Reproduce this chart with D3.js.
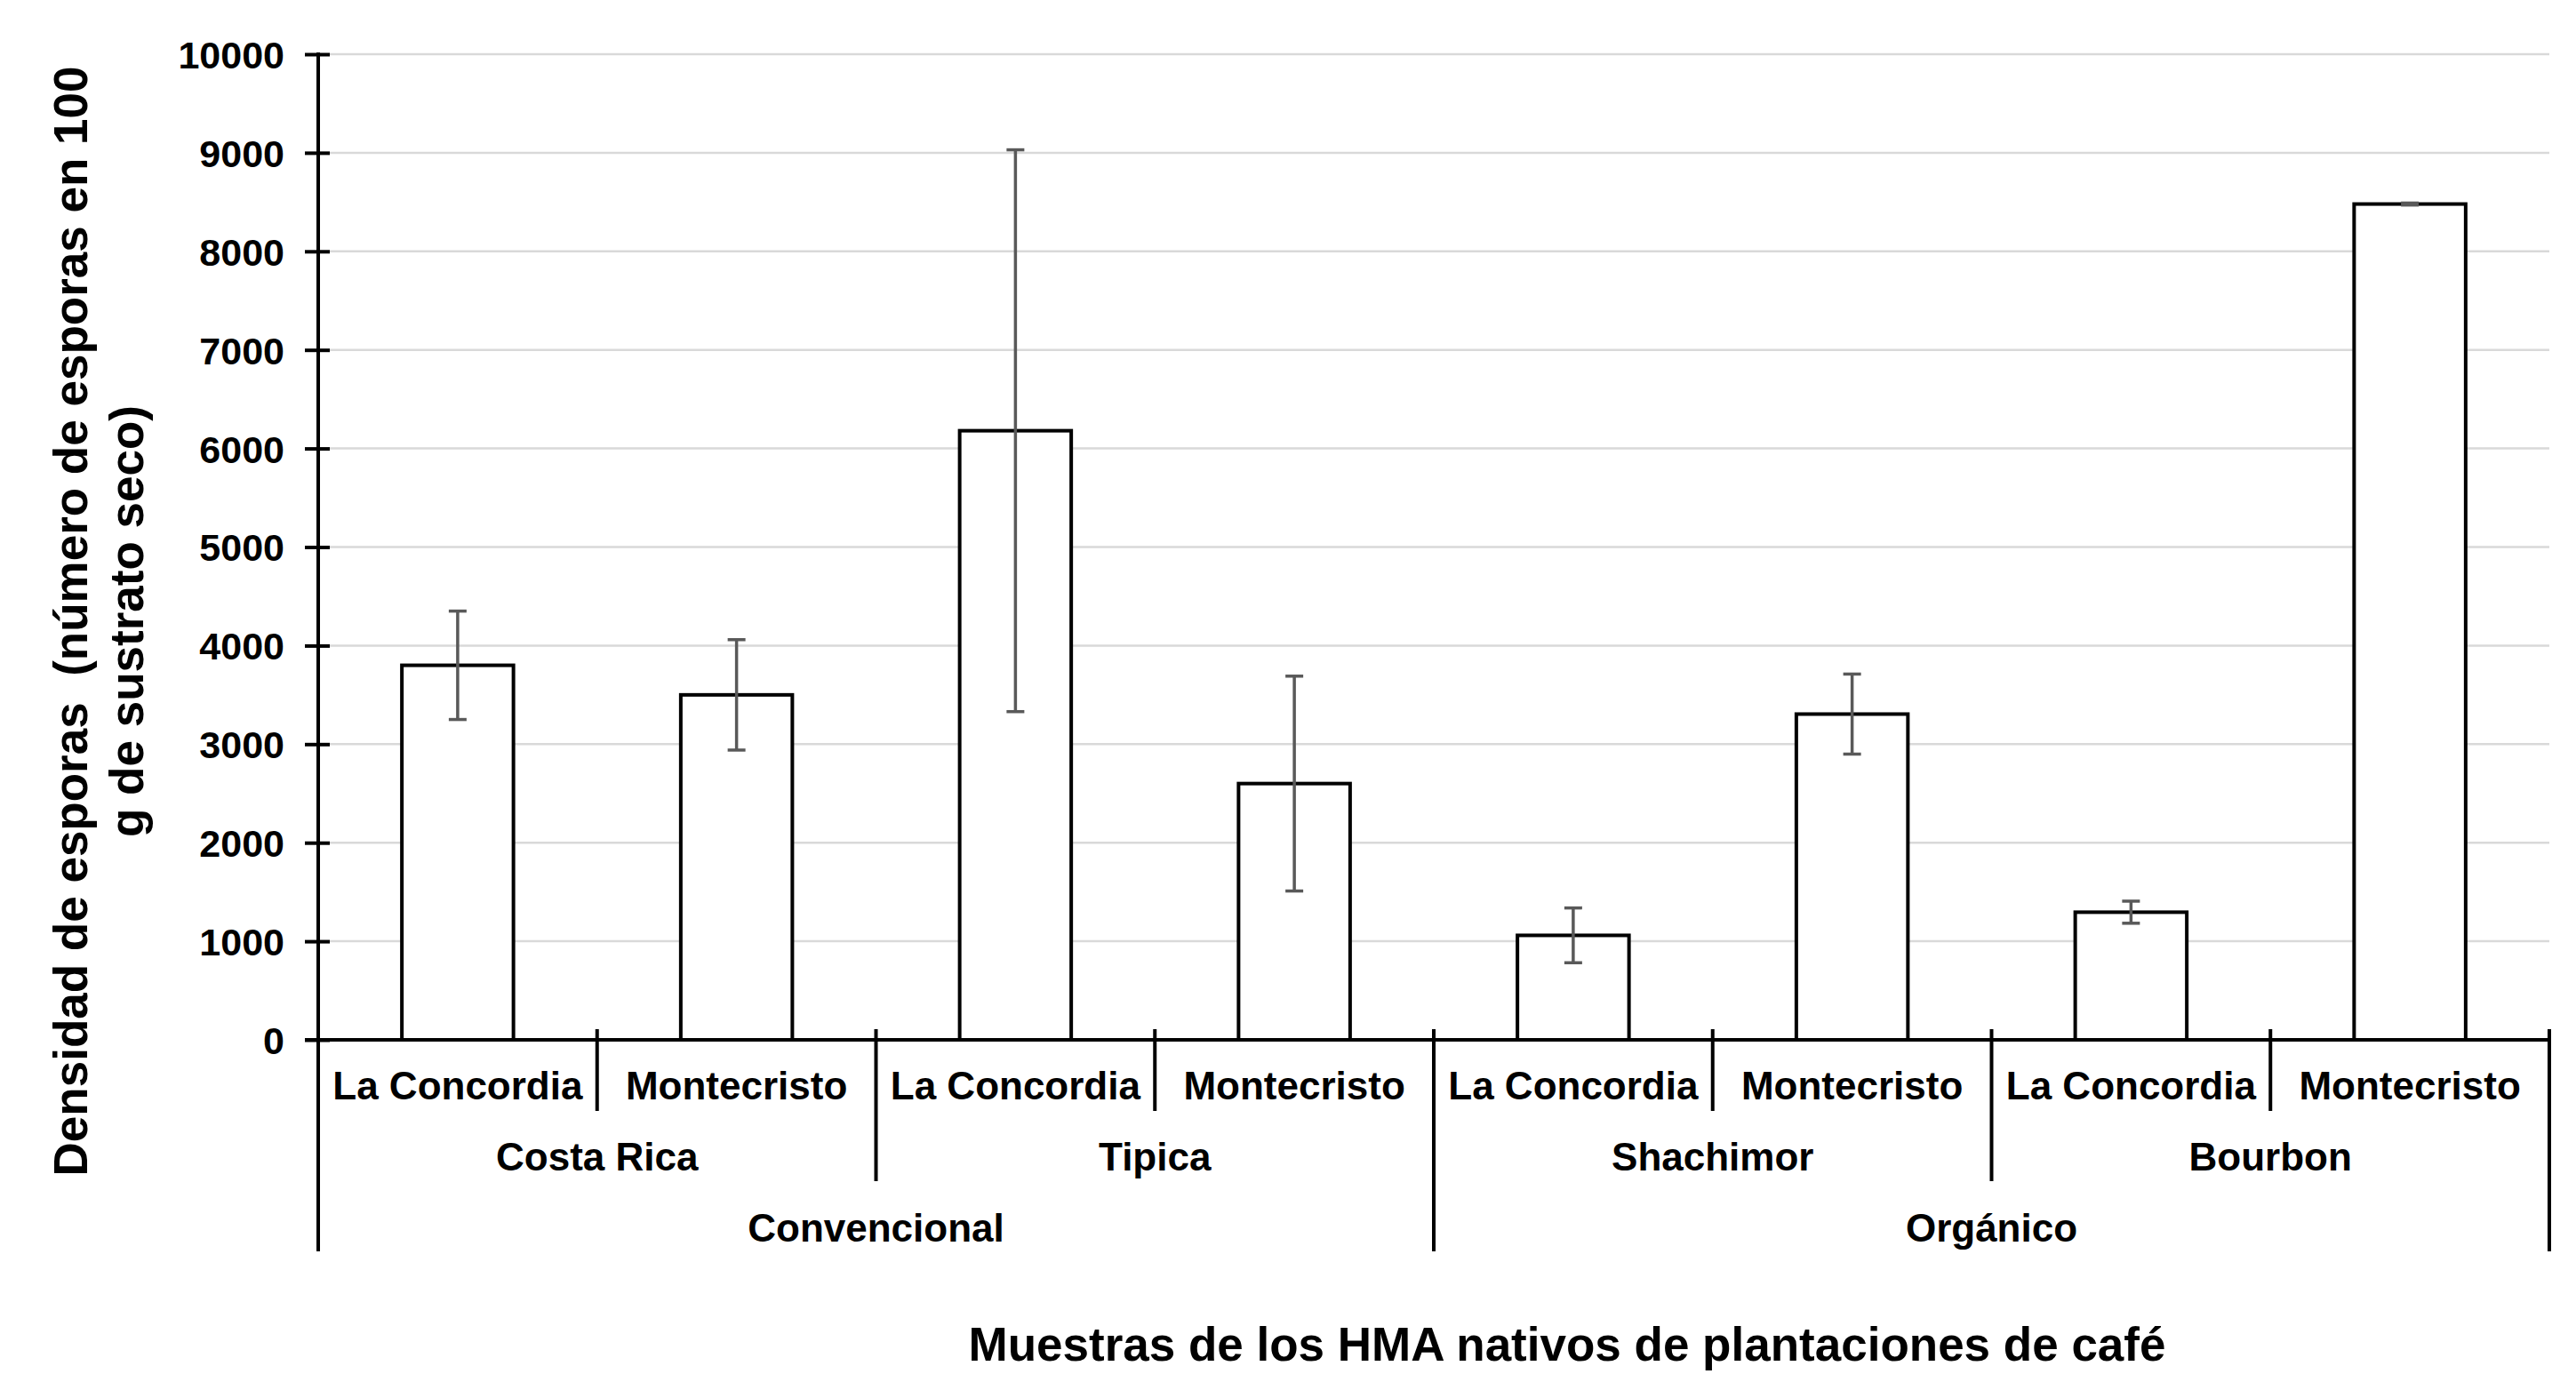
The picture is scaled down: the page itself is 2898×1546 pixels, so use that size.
<!DOCTYPE html>
<html>
<head>
<meta charset="utf-8">
<script src="https://cdn.jsdelivr.net/npm/d3@7"></script>
<style>
  body { margin: 0; background: #fff; }
  svg text { font-family: "Liberation Sans", Arial, sans-serif; font-weight: bold; fill: #000; }
</style>
</head>
<body>
<svg id="chart"></svg>
<script>
// values
var sitios = ["La Concordia", "Montecristo", "La Concordia", "Montecristo",
              "La Concordia", "Montecristo", "La Concordia", "Montecristo"]
var variedades = ["Costa Rica", "Tipica", "Shachimor", "Bourbon"]
var manejos = ["Convencional", "Orgánico"]
var densidad = [3800, 3500, 6180, 2600, 1060, 3305, 1295, 8480]
var errores = [550, 560, 2850, 1090, 278, 406, 112, 10]
var yTicks = [0, 1000, 2000, 3000, 4000, 5000, 6000, 7000, 8000, 9000, 10000]

var screen = { width: 2898, height: 1546 }
var margin = { left: 358, right: 30, top: 61, bottom: 376 }
var width = screen.width - margin.left - margin.right
var height = screen.height - margin.top - margin.bottom

var svg = d3.select("#chart")
  .attr("width", screen.width)
  .attr("height", screen.height)

var g = svg.append("g")
  .attr("transform", "translate(" + margin.left + "," + margin.top + ")")

var xScale = d3.scaleBand()
  .domain(d3.range(sitios.length))
  .range([0, width])
  .paddingInner(0.6)
  .paddingOuter(0.3)

var step = width / sitios.length

var yScale = d3.scaleLinear()
  .domain([0, 10000])
  .range([height, 0])

// gridlines
g.selectAll(".grid")
  .data(yTicks.slice(1))
  .enter()
  .append("line")
  .attr("class", "grid")
  .attr("x1", 0)
  .attr("x2", width)
  .attr("y1", function(d){ return yScale(d) })
  .attr("y2", function(d){ return yScale(d) })
  .attr("stroke", "#d9d9d9")
  .attr("stroke-width", 2.5)

// bars
g.selectAll(".bar")
  .data(densidad)
  .enter()
  .append("rect")
  .attr("class", "bar")
  .attr("x", function(d, i){ return xScale(i) })
  .attr("y", function(d){ return yScale(d) })
  .attr("width", xScale.bandwidth())
  .attr("height", function(d){ return height - yScale(d) })
  .attr("fill", "#fff")
  .attr("stroke", "#000")
  .attr("stroke-width", 4)

// error bars
var errG = g.selectAll(".err")
  .data(densidad)
  .enter()
  .append("g")
  .attr("class", "err")
  .attr("stroke", "#595959")
  .attr("stroke-width", 3.5)

errG.append("line")
  .attr("x1", function(d, i){ return xScale(i) + xScale.bandwidth() / 2 })
  .attr("x2", function(d, i){ return xScale(i) + xScale.bandwidth() / 2 })
  .attr("y1", function(d, i){ return yScale(d + errores[i]) })
  .attr("y2", function(d, i){ return yScale(d - errores[i]) })

errG.selectAll(".cap")
  .data(function(d, i){ return [[d + errores[i], i], [d - errores[i], i]] })
  .enter()
  .append("line")
  .attr("x1", function(d){ return xScale(d[1]) + xScale.bandwidth() / 2 - 10 })
  .attr("x2", function(d){ return xScale(d[1]) + xScale.bandwidth() / 2 + 10 })
  .attr("y1", function(d){ return yScale(d[0]) })
  .attr("y2", function(d){ return yScale(d[0]) })

// y axis
var yAxis = d3.axisLeft(yScale)
  .tickValues(yTicks)
  .tickSize(15)
  .tickPadding(23)
  .tickFormat(d3.format("d"))

var yAx = g.append("g").call(yAxis)
yAx.select(".domain").remove()
yAx.selectAll(".tick line")
  .attr("x1", 13)
  .attr("x2", -15)
  .attr("stroke", "#000")
  .attr("stroke-width", 4)
yAx.selectAll(".tick text")
  .attr("font-size", 43)
  .attr("dy", "0.36em")

// axis lines
g.append("line")
  .attr("x1", 0).attr("x2", 0)
  .attr("y1", -2).attr("y2", height + 238)
  .attr("stroke", "#000").attr("stroke-width", 4)

g.append("line")
  .attr("x1", -15).attr("x2", width)
  .attr("y1", height).attr("y2", height)
  .attr("stroke", "#000").attr("stroke-width", 4)

// category separators
var seps = d3.range(1, sitios.length + 1)
g.selectAll(".sep")
  .data(seps)
  .enter()
  .append("line")
  .attr("class", "sep")
  .attr("x1", function(d){ return d * step })
  .attr("x2", function(d){ return d * step })
  .attr("y1", height - 12)
  .attr("y2", function(d){
    if (d % 4 == 0) return height + 238
    if (d % 2 == 0) return height + 159
    return height + 80
  })
  .attr("stroke", "#000")
  .attr("stroke-width", 4)

// category labels
g.selectAll(".lvl1")
  .data(sitios)
  .enter()
  .append("text")
  .attr("class", "lvl1")
  .attr("x", function(d, i){ return xScale(i) + xScale.bandwidth() / 2 })
  .attr("y", height + 67)
  .attr("text-anchor", "middle")
  .attr("font-size", 44)
  .text(function(d){ return d })

g.selectAll(".lvl2")
  .data(variedades)
  .enter()
  .append("text")
  .attr("class", "lvl2")
  .attr("x", function(d, i){ return (i * 2 + 1) * step })
  .attr("y", height + 147)
  .attr("text-anchor", "middle")
  .attr("font-size", 44)
  .text(function(d){ return d })

g.selectAll(".lvl3")
  .data(manejos)
  .enter()
  .append("text")
  .attr("class", "lvl3")
  .attr("x", function(d, i){ return (i * 4 + 2) * step })
  .attr("y", height + 227)
  .attr("text-anchor", "middle")
  .attr("font-size", 44)
  .text(function(d){ return d })

// axis titles
svg.append("text")
  .attr("x", 1763)
  .attr("y", 1531)
  .attr("text-anchor", "middle")
  .attr("font-size", 53)
  .text("Muestras de los HMA nativos de plantaciones de café")

var yTitle = svg.append("text")
  .attr("transform", "translate(98,699) rotate(-90)")
  .attr("text-anchor", "middle")
  .attr("font-size", 53)

yTitle.append("tspan")
  .attr("x", 0).attr("y", 0)
  .attr("xml:space", "preserve")
  .style("white-space", "pre")
  .text("Densidad de esporas  (número de esporas en 100")

yTitle.append("tspan")
  .attr("x", 0).attr("y", 63)
  .text("g de sustrato seco)")
</script>
</body>
</html>
